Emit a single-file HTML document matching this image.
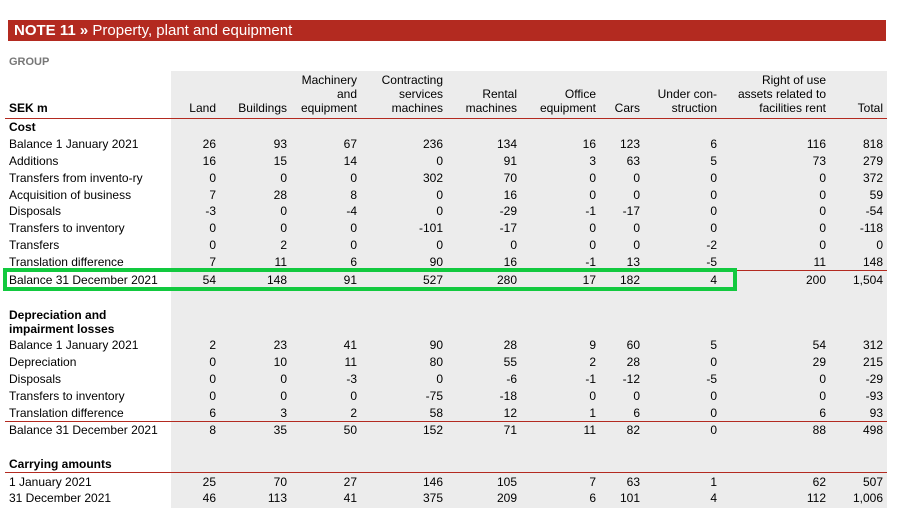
<!DOCTYPE html>
<html><head><meta charset="utf-8"><style>
body{margin:0;width:899px;height:516px;background:#fff;position:relative;overflow:hidden;font-family:"Liberation Sans",Arial,sans-serif;color:#000}
.bar{position:absolute;left:8px;top:20px;width:878px;height:21px;background:#b32a20;color:#fff;font-size:15px;line-height:21px;}
.bar b{margin-left:6px}
.grp{position:absolute;left:9px;top:56px;font-size:11px;font-weight:bold;color:#777}
table{position:absolute;left:5px;top:71px;border-collapse:collapse;table-layout:fixed;font-size:12px}
td{padding:0 4px 0 0;text-align:right;background:#ececec;height:16.8px;line-height:14px;white-space:nowrap;vertical-align:middle}
td:first-child{background:#fff;text-align:left;padding-left:4px}
tr.h td{height:44px;vertical-align:bottom;padding-bottom:3px;border-bottom:1px solid #b32a20}
tr.t td{border-top:1px solid #b32a20}
tr.b td:first-child{font-weight:bold}
.box{position:absolute;left:3px;top:268px;width:726px;height:15px;border:4px solid #12c93f}
</style></head><body>
<div class="bar"><b>NOTE 11</b> <b style="margin:0">»</b> Property, plant and equipment</div>
<div class="grp">GROUP</div>
<table>
<colgroup><col style="width:166px"><col style="width:49px"><col style="width:71px"><col style="width:70px"><col style="width:86px"><col style="width:74px"><col style="width:79px"><col style="width:44px"><col style="width:77px"><col style="width:109px"><col style="width:57px"></colgroup>
<tr class="h"><td><b>SEK m</b></td><td>Land</td><td>Buildings</td><td>Machinery<br>and<br>equipment</td><td>Contracting<br>services<br>machines</td><td>Rental<br>machines</td><td>Office<br>equipment</td><td>Cars</td><td>Under con-<br>struction</td><td>Right of use<br>assets related to<br>facilities rent</td><td>Total</td></tr>
<tr class="b"><td>Cost</td><td></td><td></td><td></td><td></td><td></td><td></td><td></td><td></td><td></td><td></td></tr>
<tr><td>Balance 1 January 2021</td><td>26</td><td>93</td><td>67</td><td>236</td><td>134</td><td>16</td><td>123</td><td>6</td><td>116</td><td>818</td></tr>
<tr><td>Additions</td><td>16</td><td>15</td><td>14</td><td>0</td><td>91</td><td>3</td><td>63</td><td>5</td><td>73</td><td>279</td></tr>
<tr><td>Transfers from invento-ry</td><td>0</td><td>0</td><td>0</td><td>302</td><td>70</td><td>0</td><td>0</td><td>0</td><td>0</td><td>372</td></tr>
<tr><td>Acquisition of business</td><td>7</td><td>28</td><td>8</td><td>0</td><td>16</td><td>0</td><td>0</td><td>0</td><td>0</td><td>59</td></tr>
<tr><td>Disposals</td><td>-3</td><td>0</td><td>-4</td><td>0</td><td>-29</td><td>-1</td><td>-17</td><td>0</td><td>0</td><td>-54</td></tr>
<tr><td>Transfers to inventory</td><td>0</td><td>0</td><td>0</td><td>-101</td><td>-17</td><td>0</td><td>0</td><td>0</td><td>0</td><td>-118</td></tr>
<tr><td>Transfers</td><td>0</td><td>2</td><td>0</td><td>0</td><td>0</td><td>0</td><td>0</td><td>-2</td><td>0</td><td>0</td></tr>
<tr><td>Translation difference</td><td>7</td><td>11</td><td>6</td><td>90</td><td>16</td><td>-1</td><td>13</td><td>-5</td><td>11</td><td>148</td></tr>
<tr class="t"><td>Balance 31 December 2021</td><td>54</td><td>148</td><td>91</td><td>527</td><td>280</td><td>17</td><td>182</td><td>4</td><td>200</td><td>1,504</td></tr>
<tr><td style="height:19px"></td><td></td><td></td><td></td><td></td><td></td><td></td><td></td><td></td><td></td><td></td></tr>
<tr class="b"><td style="height:30px">Depreciation and<br>impairment losses</td><td></td><td></td><td></td><td></td><td></td><td></td><td></td><td></td><td></td><td></td></tr>
<tr><td>Balance 1 January 2021</td><td>2</td><td>23</td><td>41</td><td>90</td><td>28</td><td>9</td><td>60</td><td>5</td><td>54</td><td>312</td></tr>
<tr><td>Depreciation</td><td>0</td><td>10</td><td>11</td><td>80</td><td>55</td><td>2</td><td>28</td><td>0</td><td>29</td><td>215</td></tr>
<tr><td>Disposals</td><td>0</td><td>0</td><td>-3</td><td>0</td><td>-6</td><td>-1</td><td>-12</td><td>-5</td><td>0</td><td>-29</td></tr>
<tr><td>Transfers to inventory</td><td>0</td><td>0</td><td>0</td><td>-75</td><td>-18</td><td>0</td><td>0</td><td>0</td><td>0</td><td>-93</td></tr>
<tr><td>Translation difference</td><td>6</td><td>3</td><td>2</td><td>58</td><td>12</td><td>1</td><td>6</td><td>0</td><td>6</td><td>93</td></tr>
<tr class="t"><td style="height:15px">Balance 31 December 2021</td><td>8</td><td>35</td><td>50</td><td>152</td><td>71</td><td>11</td><td>82</td><td>0</td><td>88</td><td>498</td></tr>
<tr><td style="height:16px"></td><td></td><td></td><td></td><td></td><td></td><td></td><td></td><td></td><td></td><td></td></tr>
<tr class="b"><td>Carrying amounts</td><td></td><td></td><td></td><td></td><td></td><td></td><td></td><td></td><td></td><td></td></tr>
<tr class="t"><td style="height:15.5px">1 January 2021</td><td>25</td><td>70</td><td>27</td><td>146</td><td>105</td><td>7</td><td>63</td><td>1</td><td>62</td><td>507</td></tr>
<tr><td style="height:17px;vertical-align:top;padding-top:1px">31 December 2021</td><td style="vertical-align:top;padding-top:1px">46</td><td style="vertical-align:top;padding-top:1px">113</td><td style="vertical-align:top;padding-top:1px">41</td><td style="vertical-align:top;padding-top:1px">375</td><td style="vertical-align:top;padding-top:1px">209</td><td style="vertical-align:top;padding-top:1px">6</td><td style="vertical-align:top;padding-top:1px">101</td><td style="vertical-align:top;padding-top:1px">4</td><td style="vertical-align:top;padding-top:1px">112</td><td style="vertical-align:top;padding-top:1px">1,006</td></tr>
</table>
<div class="box"></div>
</body></html>
